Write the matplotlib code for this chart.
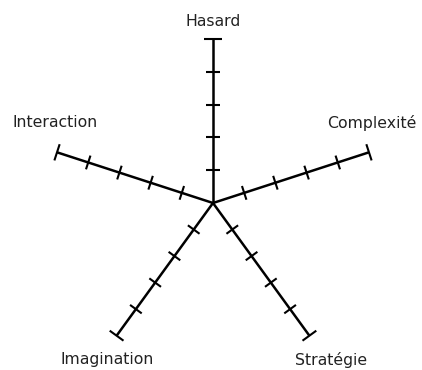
import numpy as np
import matplotlib
matplotlib.use("Agg")
import matplotlib.pyplot as plt

# axis names, clockwise from the top
categories = ["Hasard", "Complexité", "Stratégie", "Imagination", "Interaction"]
n_ticks = 5                       # graduations per axis (last one is the end cap)
tick_values = list(range(1, n_ticks + 1))

# label offsets from the axis end, in pixels
label_offsets = [(0, 18), (3, 29), (22, -24), (-9, -24), (-2, 30)]

fig = plt.figure(figsize=(4.22, 3.70), dpi=100)
ax = fig.add_axes([0, 0, 1, 1])

scale = 164 / n_ticks            # px per unit
cx, cy = 213, 203                 # center in pixels (from top-left)
ax.set_xlim(-cx / scale, (422 - cx) / scale)
ax.set_ylim(-(370 - cy) / scale, cy / scale)
ax.set_aspect("equal")
ax.axis("off")

angles = np.deg2rad(90 - 72 * np.arange(len(categories)))

for name, ang, off in zip(categories, angles, label_offsets):
    ux, uy = np.cos(ang), np.sin(ang)
    px, py = -uy, ux               # perpendicular
    ax.plot([0, n_ticks * ux], [0, n_ticks * uy], color="black", lw=1.8,
            solid_capstyle="butt")
    for v in tick_values:
        half = 0.26 if v == n_ticks else 0.22
        x0, y0 = v * ux, v * uy
        ax.plot([x0 - half * px, x0 + half * px], [y0 - half * py, y0 + half * py],
                color="black", lw=1.5, solid_capstyle="butt")
    ax.annotate(name, (n_ticks * ux, n_ticks * uy), xytext=off,
                textcoords="offset pixels", ha="center", va="center",
                fontsize=11.3, color="#222222", family="DejaVu Sans")

fig.savefig("out.png", dpi=100)
